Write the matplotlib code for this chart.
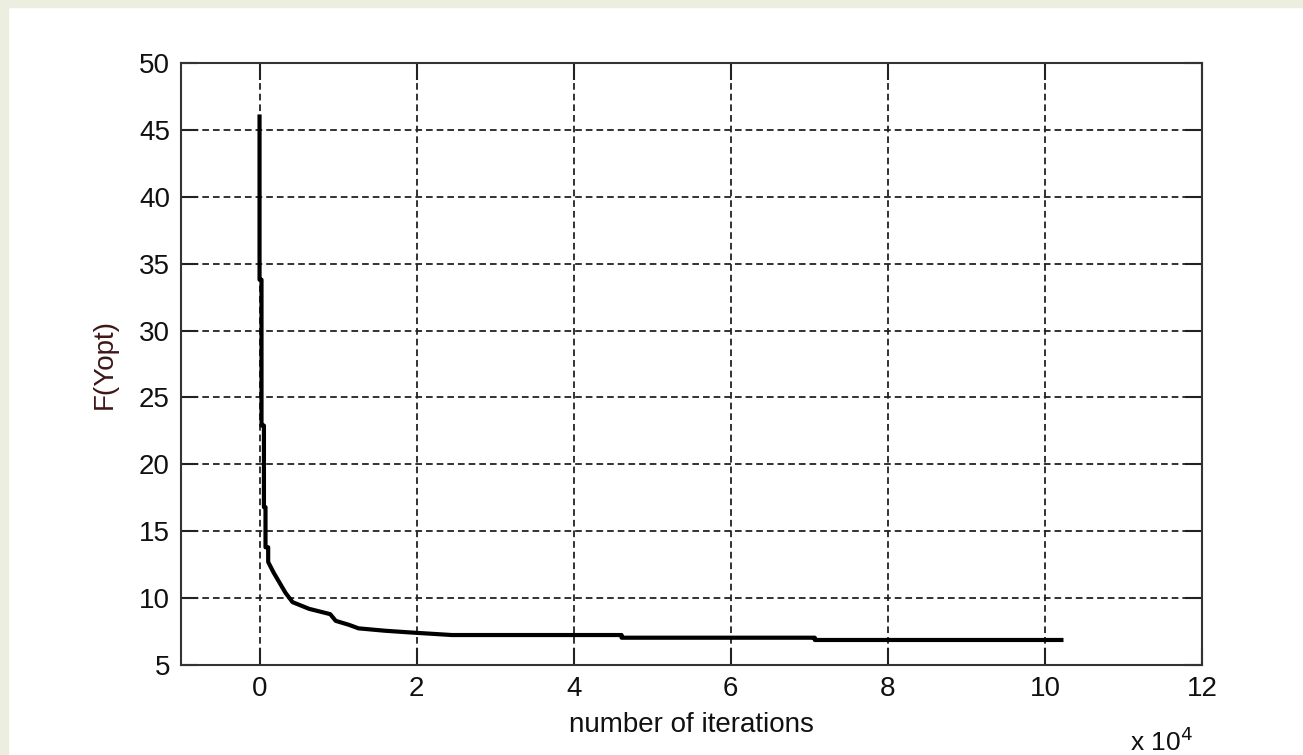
import numpy as np
import matplotlib
matplotlib.use("Agg")
import matplotlib.pyplot as plt
from matplotlib.patches import Rectangle

plt.rcParams['font.family'] = ['Liberation Sans', 'DejaVu Sans']

# best objective value F(Yopt) recorded against iteration count
iterations = [0, 0, 250, 250, 560, 560, 760, 760, 1100, 1100,
              1800, 2500, 3300, 4200, 6300, 9000, 9700, 11400, 12600,
              16000, 19000, 24500, 46100, 46100, 70700, 70700, 102100]
f_opt = [46.0, 33.8, 33.8, 22.9, 22.9, 16.8, 16.8, 13.8, 13.8, 12.7,
         11.9, 11.2, 10.4, 9.7, 9.2, 8.8, 8.3, 8.0, 7.74,
         7.56, 7.44, 7.24, 7.24, 7.04, 7.04, 6.87, 6.87]

x_ticks = [0, 2e4, 4e4, 6e4, 8e4, 10e4, 12e4]
x_labels = ['0', '2', '4', '6', '8', '10', '12']
y_ticks = [5, 10, 15, 20, 25, 30, 35, 40, 45, 50]

fig = plt.figure(figsize=(13.03, 7.55), dpi=100, facecolor='white')
# thin window frame along the top and left edges
fig.patches.append(Rectangle((0, 0), 8 / 1303, 1, transform=fig.transFigure,
                             color='#ecefe0', zorder=0))
fig.patches.append(Rectangle((0, 1 - 7 / 755), 1, 7 / 755, transform=fig.transFigure,
                             color='#ecefe0', zorder=0))

ax = fig.add_axes([181 / 1303, 90 / 755, 1021 / 1303, 602 / 755])

ax.plot(iterations, f_opt, color='black', lw=3, zorder=3)

ax.set_xlim(-1e4, 12e4)
ax.set_ylim(5, 50)
ax.set_xticks(x_ticks)
ax.set_xticklabels(x_labels)
ax.set_yticks(y_ticks)

ax.grid(True, color='#222222', linestyle=(0, (3.7, 2.2)), lw=1.3)
for sp in ax.spines.values():
    sp.set_linewidth(1.5)
    sp.set_color('#333333')

ax.tick_params(direction='in', length=12.5, width=1.5, color='#222222',
               top=True, right=True, labelsize=20, labelcolor='#111111')
ax.tick_params(axis='y', pad=8)
ax.tick_params(axis='x', pad=8)

ax.set_xlabel('number of iterations', fontsize=20, color='#111111')
ax.xaxis.set_label_coords(0.5, -0.078)
ax.set_ylabel('F(Yopt)', fontsize=20, color='#3e1616')
ax.yaxis.set_label_coords(-0.062, 0.5)

fig.text(1130 / 1303, 4 / 755, r'x 10$^4$', fontsize=19, color='#111111',
         ha='left', va='baseline')

fig.savefig('out.png', dpi=100)
